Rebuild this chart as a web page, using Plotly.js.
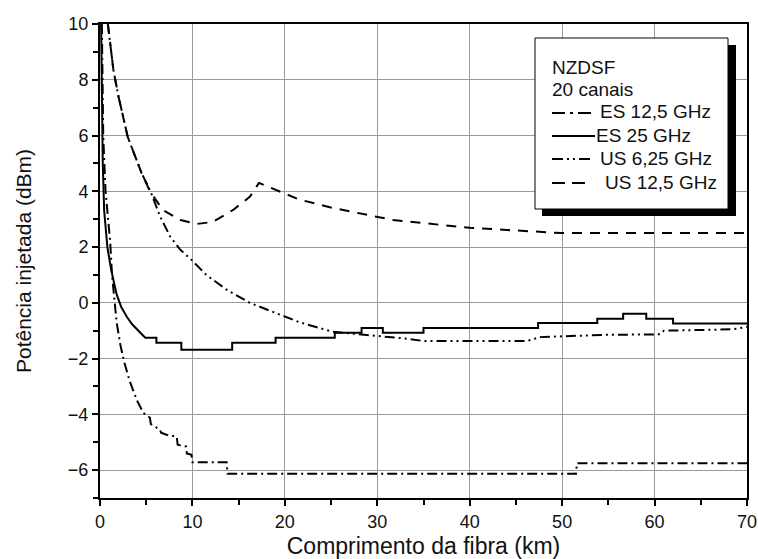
<!DOCTYPE html>
<html>
<head>
<meta charset="utf-8">
<script src="https://cdn.plot.ly/plotly-3.0.1.min.js"></script>
<style>html,body{margin:0;padding:0;background:#fff;}#chart{width:758px;height:559px;}</style>
</head>
<body>
<div id="chart"></div>
<script>
// Series names and legend header
const seriesNames = ["ES 12,5 GHz", "ES 25 GHz", "US 6,25 GHz", "US 12,5 GHz"];
const legendHeader = ["NZDSF", "20 canais"];

// ES 12,5 GHz (dash-dot)
const es125X = [0.2,0.35,0.6,0.9,1.1,1.3,1.55,1.8,2.2,2.6,3.2,4.0,4.7,5.4,5.5,6.5,6.6,7.2,8.3,8.4,9.3,9.4,9.9,10.0,13.7,13.8,51.5,51.6,70];
const es125Y = [10,6,4,3,2.2,1.0,0,-0.7,-1.5,-2.1,-2.8,-3.5,-3.95,-4.12,-4.35,-4.55,-4.66,-4.73,-4.8,-5.09,-5.15,-5.4,-5.45,-5.72,-5.72,-6.13,-6.13,-5.75,-5.75];

// ES 25 GHz (solid)
const es25X = [0.12,0.2,0.3,0.45,0.8,1.2,1.5,1.8,2.3,2.9,3.5,4.0,4.5,4.9,6.1,6.1,8.8,8.8,14.3,14.3,19,19,25.4,25.4,28.3,28.3,30.6,30.6,35,35,47.4,47.4,53.8,53.8,56.6,56.6,59.1,59.1,62,62,70];
const es25Y = [10,7,5,3.3,2.0,1.2,0.75,0.3,-0.15,-0.5,-0.78,-0.97,-1.12,-1.25,-1.25,-1.43,-1.43,-1.68,-1.68,-1.43,-1.43,-1.25,-1.25,-1.07,-1.07,-0.9,-0.9,-1.07,-1.07,-0.9,-0.9,-0.72,-0.72,-0.57,-0.57,-0.39,-0.39,-0.57,-0.57,-0.74,-0.74];

// US 6,25 GHz (dash-dot-dot)
const us625X = [0.85,1.45,2.0,3.0,4.5,5.4,6.5,7.6,8.7,9.9,11.5,13.7,16.2,18.9,21.6,25.2,28.1,30.5,33,35,46.2,47.6,54.4,60.6,61,68.5,70];
const us625Y = [10,8.35,7.4,5.95,4.65,4.05,3.1,2.37,1.9,1.54,1.0,0.47,0,-0.36,-0.7,-1.04,-1.12,-1.2,-1.28,-1.37,-1.37,-1.23,-1.15,-1.13,-1.0,-0.95,-0.86];

// US 12,5 GHz (dashed)
const us125X = [0.85,1.45,2.0,3.0,4.5,5.4,6.8,8.7,10.5,12.2,14.4,16.2,17.2,19.1,21.6,25.2,29.5,31.7,40,46.5,50,70];
const us125Y = [10,8.35,7.4,5.95,4.65,4.0,3.33,2.97,2.83,2.9,3.33,3.8,4.3,4.05,3.7,3.4,3.1,2.97,2.69,2.55,2.5,2.5];

// Axis ticks
const xTicks = [0,10,20,30,40,50,60,70];
const yTicks = [-6,-4,-2,0,2,4,6,8,10];
const xMinorStep = 5;
const yMinorStep = 1;

const FONT = "Liberation Sans, Arial, sans-serif";
const dashes = ["10px,4px,2px,4px", "solid", "10px,4px,2px,4px,2px,4px", "10px,8px"];
const legendDashes = ["13px,5px,3px,5px", "solid", "11px,4px,2px,4px,2px,4px", "13px,7px"];

function tr(x, y, name, dash) {
  return {x: x, y: y, name: name, type: "scatter", mode: "lines", showlegend: false,
          line: {color: "#000", width: 2, dash: dash}, hoverinfo: "skip"};
}

const data = [
  tr(es125X, es125Y, seriesNames[0], dashes[0]),
  tr(es25X, es25Y, seriesNames[1], dashes[1]),
  tr(us625X, us625Y, seriesNames[2], dashes[2]),
  tr(us125X, us125Y, seriesNames[3], dashes[3])
];

const L = 100, R = 747, T = 24, B = 498;
const W = R - L, H = B - T;
function px(p) { return (p - L) / W; }
function py(p) { return (B - p) / H; }

const shapes = [
  {type: "rect", xref: "paper", yref: "paper", x0: px(542), x1: px(736), y0: py(216), y1: py(45),
   fillcolor: "#000", line: {width: 0}, layer: "above"},
  {type: "rect", xref: "paper", yref: "paper", x0: px(535), x1: px(728), y0: py(209), y1: py(38),
   fillcolor: "#fff", line: {color: "#000", width: 1}, layer: "above"}
];
const annotations = [];
const headerY = [68, 90];
legendHeader.forEach((t, i) => annotations.push({
  xref: "paper", yref: "paper", x: px(550), y: py(headerY[i]), xanchor: "left", yanchor: "middle",
  text: t, showarrow: false, font: {family: FONT, size: 19, color: "#111"}
}));
const rowY = [112, 135, 158, 182];
const sampleEnd = [592, 595, 592, 586];
const textX = [598, 594, 598, 603];
seriesNames.forEach((n, i) => {
  shapes.push({type: "line", xref: "paper", yref: "paper", x0: px(552), x1: px(sampleEnd[i]),
               y0: py(rowY[i] + 1), y1: py(rowY[i] + 1),
               line: {color: "#000", width: 2, dash: legendDashes[i]}, layer: "above"});
  annotations.push({xref: "paper", yref: "paper", x: px(textX[i]), y: py(rowY[i]),
                    xanchor: "left", yanchor: "middle", text: n, showarrow: false,
                    font: {family: FONT, size: 19, color: "#111"}});
});

const layout = {
  width: 758, height: 559,
  margin: {l: L, r: 758 - R, t: T, b: 559 - B, pad: 0},
  paper_bgcolor: "#fff", plot_bgcolor: "#fff",
  font: {family: FONT, color: "#111", size: 18},
  showlegend: false,
  xaxis: {
    range: [0, 70], tickmode: "linear", tick0: xTicks[0], dtick: xTicks[1] - xTicks[0],
    showgrid: true, gridcolor: "#9a9a9a", gridwidth: 1,
    zeroline: false, showline: true, linecolor: "#000", linewidth: 2, mirror: true,
    ticks: "outside", ticklen: 6, tickwidth: 2, tickcolor: "#000",
    minor: {tickmode: "linear", tick0: xTicks[0], dtick: xMinorStep, ticks: "outside",
            ticklen: 5, tickwidth: 2, tickcolor: "#000", showgrid: false},
    tickfont: {family: FONT, size: 18, color: "#111"},
    title: {text: "Comprimento da fibra (km)", font: {family: FONT, size: 23, color: "#111"}, standoff: 8},
    automargin: false
  },
  yaxis: {
    range: [-7, 10], tickmode: "linear", tick0: yTicks[0], dtick: yTicks[1] - yTicks[0],
    showgrid: true, gridcolor: "#9a9a9a", gridwidth: 1,
    zeroline: false, showline: true, linecolor: "#000", linewidth: 2, mirror: true,
    ticks: "outside", ticklen: 6, tickwidth: 2, tickcolor: "#000",
    minor: {tickmode: "linear", tick0: 0, dtick: yMinorStep, ticks: "outside",
            ticklen: 5, tickwidth: 2, tickcolor: "#000", showgrid: false},
    tickfont: {family: FONT, size: 18, color: "#111"},
    title: {text: "Potência injetada (dBm)", font: {family: FONT, size: 21, color: "#111"}, standoff: 31},
    automargin: false
  },
  shapes: shapes,
  annotations: annotations
};

Plotly.newPlot("chart", data, layout, {displayModeBar: false, staticPlot: true});
</script>
</body>
</html>
